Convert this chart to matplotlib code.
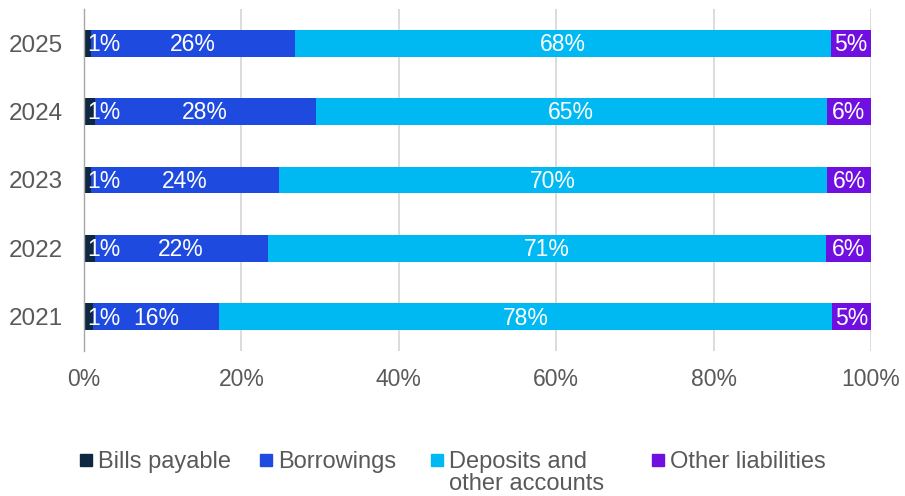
import matplotlib
matplotlib.use('Agg')
import matplotlib.pyplot as plt
from matplotlib.patches import Rectangle
from matplotlib.ticker import PercentFormatter
import numpy as np

plt.rcParams['font.family'] = ['Liberation Sans', 'DejaVu Sans']

years = ['2025', '2024', '2023', '2022', '2021']
bills_payable = [0.85, 1.35, 0.85, 1.35, 1.1]
borrowings = [25.95, 28.1, 23.9, 22.0, 16.1]
deposits = [68.1, 64.9, 69.7, 70.9, 77.8]
other_liabilities = [5.1, 5.65, 5.55, 5.75, 5.0]

series_names = ['Bills payable', 'Borrowings', 'Deposits and\nother accounts', 'Other liabilities']
series_colors = ['#0E2841', '#1F4AE0', '#00B9F2', '#7010E0']
series = [bills_payable, borrowings, deposits, other_liabilities]

fig = plt.figure(figsize=(9.05, 4.96), dpi=100)
ax = fig.add_axes([84 / 905, 1 - 351 / 496, 787 / 905, 342 / 496])

y = np.arange(len(years))
left = np.zeros(len(years))
for i, (vals, color) in enumerate(zip(series, series_colors)):
    vals = np.array(vals)
    ax.barh(y, vals, left=left, height=0.39, color=color, zorder=3)
    for yy, l, v in zip(y, left, vals):
        txt = f'{round(v):.0f}%'
        if i == 0:
            # small first segment: label sits at the base
            ax.annotate(txt, (l, yy), xytext=(2, -1), textcoords='offset points',
                        ha='left', va='center', color='white', fontsize=16.5, zorder=4)
        else:
            ax.annotate(txt, (l + v / 2, yy), xytext=(0, -1), textcoords='offset points',
                        ha='center', va='center', color='white', fontsize=16.5, zorder=4)
    left = left + vals

ax.set_xlim(0, 100)
ax.set_ylim(len(years) - 0.5, -0.5)
ax.set_yticks(y)
ax.set_yticklabels(years)
ax.set_xticks(np.arange(0, 101, 20))
ax.xaxis.set_major_formatter(PercentFormatter(decimals=0))
ax.tick_params(axis='both', length=0, colors='#595959')
ax.tick_params(axis='y', pad=15, labelsize=17.5)
ax.tick_params(axis='x', pad=12, labelsize=16.5)
ax.grid(axis='x', color='#D9D9D9', linewidth=1.3, zorder=0)
for s in ['top', 'right', 'bottom']:
    ax.spines[s].set_visible(False)
ax.spines['left'].set_color('#A6A6A6')
ax.spines['left'].set_linewidth(1.0)
ax.spines['left'].set_zorder(5)

# legend drawn by hand, one baseline per text line
legend_x = [80, 260, 431, 652]
for x0, name, color in zip(legend_x, series_names, series_colors):
    fig.add_artist(Rectangle((x0 / 905, 1 - 466 / 496), 12 / 905, 12 / 496,
                             transform=fig.transFigure, color=color))
    for k, line in enumerate(name.split('\n')):
        fig.text((x0 + 18) / 905, 1 - (468 + 22 * k) / 496, line, ha='left',
                 va='baseline', fontsize=17, color='#595959')

fig.savefig('out.png', dpi=100)
